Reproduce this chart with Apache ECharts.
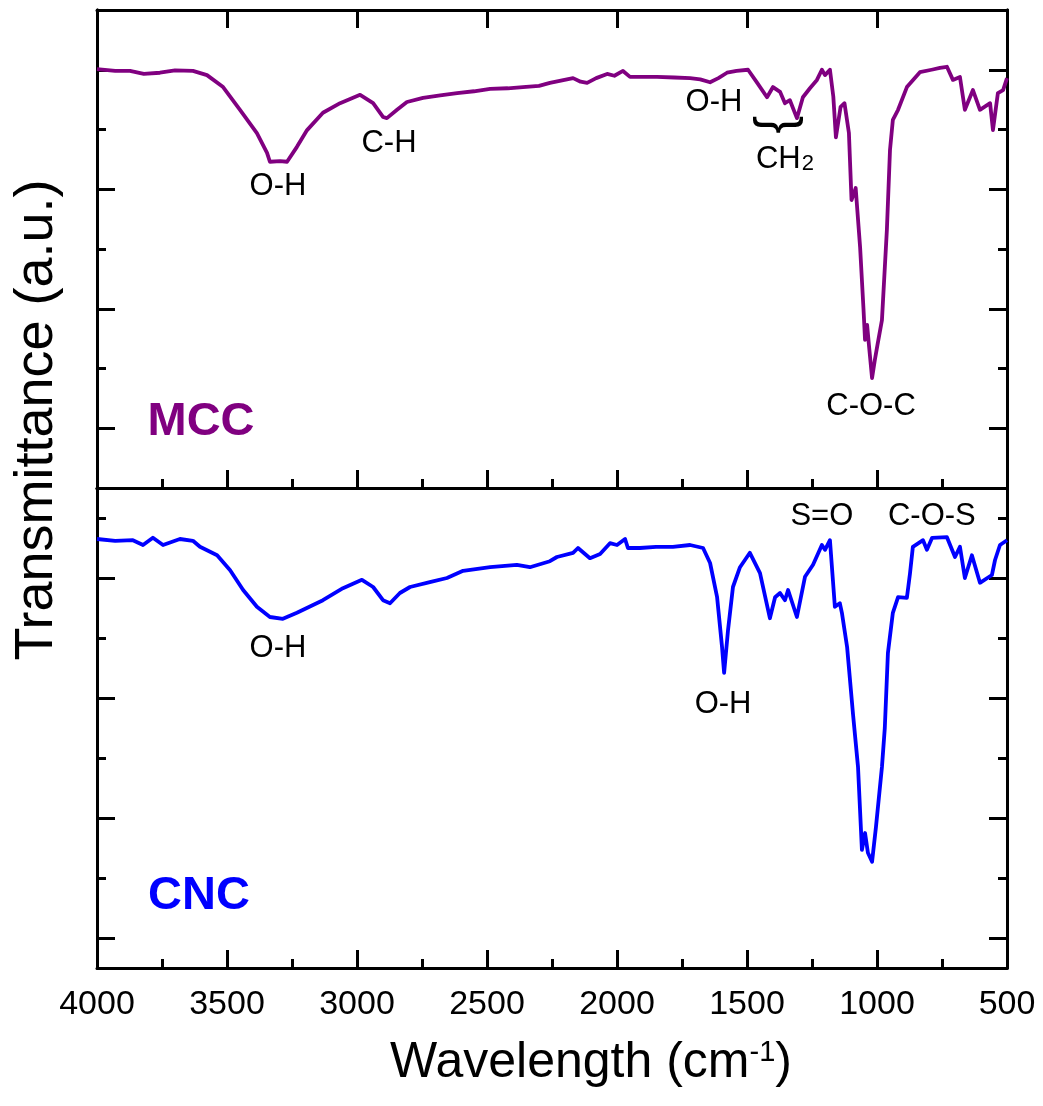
<!DOCTYPE html>
<html>
<head>
<meta charset="utf-8">
<script src="https://cdn.jsdelivr.net/npm/echarts@6/dist/echarts.min.js"></script>
<style>
  html, body { margin: 0; padding: 0; background: #fff; }
  #chart { width: 1043px; height: 1106px; }
</style>
</head>
<body>
<div id="chart"></div>
<script>
// FTIR spectra: wavenumber (cm-1) and transmittance (a.u.)
const mccWavenumber = [4000,3930,3873,3820,3758,3700,3631,3577,3515,3450,3385,3346,3335,3296,3269,3231,3192,3131,3065,2988,2938,2900,2885,2846,2808,2746,2680,2615,2550,2488,2420,2362,2300,2258,2169,2140,2115,2080,2038,2010,1977,1950,1900,1846,1780,1719,1680,1642,1610,1577,1540,1496,1462,1423,1400,1373,1354,1335,1308,1285,1258,1231,1212,1200,1181,1168,1158,1140,1125,1108,1098,1082,1065,1052,1046,1038,1031,1019,1008,998,981,962,950,939,919,885,835,790,758,731,708,681,662,631,604,565,554,535,515,500];
const mccTransmittance = [7.01,6.98,6.98,6.93,6.95,6.99,6.98,6.91,6.71,6.33,5.94,5.61,5.46,5.47,5.46,5.71,5.99,6.28,6.44,6.58,6.44,6.21,6.19,6.33,6.46,6.53,6.57,6.61,6.64,6.68,6.69,6.71,6.73,6.78,6.86,6.80,6.78,6.86,6.93,6.90,6.98,6.88,6.88,6.88,6.87,6.86,6.84,6.79,6.86,6.95,6.98,7.00,6.79,6.54,6.71,6.63,6.44,6.49,6.19,6.54,6.69,6.83,7.00,6.91,7.00,6.55,5.87,6.38,6.44,5.94,4.82,5.02,4.03,3.00,2.48,2.73,2.39,1.84,2.15,2.40,2.81,4.32,5.66,6.16,6.33,6.71,6.96,7.00,7.03,7.05,6.83,6.88,6.33,6.66,6.33,6.44,5.99,6.61,6.66,6.86];

const cncWavenumber = [4000,3930,3862,3823,3785,3746,3681,3631,3604,3538,3488,3438,3385,3335,3285,3231,3131,3054,2981,2938,2900,2873,2835,2796,2720,2654,2592,2488,2385,2335,2258,2231,2169,2150,2104,2065,2027,2000,1969,1958,1912,1850,1785,1719,1669,1642,1615,1596,1588,1573,1554,1527,1489,1450,1412,1392,1373,1354,1342,1308,1277,1246,1212,1200,1181,1162,1143,1135,1115,1092,1073,1058,1046,1035,1019,1004,981,970,958,939,919,885,873,862,823,808,788,731,700,681,662,635,604,558,546,527,500];
const cncTransmittance = [7.15,7.12,7.13,7.05,7.17,7.05,7.15,7.12,7.02,6.88,6.63,6.30,6.02,5.85,5.82,5.92,6.13,6.33,6.47,6.35,6.13,6.08,6.25,6.35,6.43,6.50,6.62,6.68,6.72,6.68,6.78,6.85,6.92,7.00,6.83,6.90,7.08,7.05,7.15,7.00,7.00,7.02,7.02,7.05,7.00,6.75,6.18,5.35,4.92,5.63,6.35,6.68,6.92,6.58,5.83,6.18,6.25,6.13,6.30,5.85,6.52,6.72,7.05,6.97,7.13,6.02,6.08,5.92,5.35,4.22,3.35,1.97,2.25,1.92,1.77,2.35,3.35,4.00,5.25,5.92,6.18,6.17,6.58,7.02,7.13,6.97,7.17,7.18,6.85,7.02,6.50,6.88,6.42,6.55,6.80,7.05,7.13];

// band assignments placed at (wavenumber, transmittance)
const mccNoteText = ['O-H', 'C-H', 'O-H', '}', 'CH2', 'C-O-C', 'MCC'];
const mccNoteWn   = [3304, 2877, 1627, 1377, 1354, 1023, 3600];
const mccNoteT    = [5.04, 5.77, 6.46, 6.08, 5.50, 1.36, 1.10];

const cncNoteText = ['O-H', 'O-H', 'S=O', 'C-O-S', 'CNC'];
const cncNoteWn   = [3304, 1592, 1212, 789, 3608];
const cncNoteT    = [5.33, 4.40, 7.53, 7.53, 1.20];

// tick positions on the transmittance axes (no labels)
const mccMajorTicks = [1, 3, 5, 7];
const mccMinorTicks = [2, 4, 6];
const cncMajorTicks = [0.5, 2.5, 4.5, 6.5];
const cncMinorTicks = [1.5, 3.5, 5.5, 7.5];

const FONT = '"Liberation Sans", Arial, sans-serif';
const MCC_COLOR = '#800080';
const CNC_COLOR = '#0000ff';

const chart = echarts.init(document.getElementById('chart'), null, { renderer: 'canvas' });

const frameLine = { show: true, onZero: false, lineStyle: { color: '#000', width: 3 } };

function xAxisDef(gridIndex, position, major, minor, labels) {
  return {
    type: 'value', gridIndex, position,
    min: 500, max: 4000, interval: 500, inverse: true,
    axisLine: frameLine,
    splitLine: { show: false },
    axisTick: { show: major, inside: true, length: 18, lineStyle: { color: '#000', width: 3 } },
    minorTick: { show: minor, splitNumber: 2, length: 9, lineStyle: { color: '#000', width: 3 } },
    axisLabel: {
      show: labels, color: '#000', fontFamily: FONT, fontSize: 34, margin: 20,
      formatter: v => String(v)
    }
  };
}

function yAxisDef(gridIndex, position, ticks, len) {
  return {
    type: 'value', gridIndex, position,
    min: 0, max: 8,
    axisLine: frameLine,
    splitLine: { show: false },
    axisLabel: { show: false },
    axisTick: { show: true, inside: true, length: len, customValues: ticks, lineStyle: { color: '#000', width: 3 } }
  };
}

function noteLabel(t) {
  const base = {
    show: true, position: [0, 0], align: 'center', verticalAlign: 'middle',
    fontFamily: FONT, fontSize: 31, color: '#000', textBorderWidth: 0, opacity: 1
  };
  if (t === 'CH2') {
    return Object.assign(base, {
      formatter: '{c|CH}{s|2}',
      rich: {
        c: { fontFamily: FONT, fontSize: 31, color: '#000', verticalAlign: 'top', lineHeight: 31 },
        s: { fontFamily: FONT, fontSize: 22, color: '#000', verticalAlign: 'bottom', lineHeight: 22, padding: [22, 0, 0, 1] }
      }
    });
  }
  if (t === '}') return Object.assign(base, { formatter: () => '}', fontSize: 54, rotate: -90 });
  if (t === 'MCC') return Object.assign(base, { formatter: () => t, fontSize: 47, fontWeight: 'bold', color: MCC_COLOR });
  if (t === 'CNC') return Object.assign(base, { formatter: () => t, fontSize: 47, fontWeight: 'bold', color: CNC_COLOR });
  return Object.assign(base, { formatter: () => t });
}

function noteData(texts, wns, ts) {
  return texts.map((t, i) => ({ value: [wns[i], ts[i]], label: noteLabel(t) }));
}

function pairs(xs, ys) { return xs.map((x, i) => [x, ys[i]]); }

const option = {
  animation: false,
  backgroundColor: '#fff',
  grid: [
    { left: 97, right: 36, top: 10, height: 478 },
    { left: 97, right: 36, top: 488, height: 480 }
  ],
  xAxis: [
    xAxisDef(0, 'bottom', true, true, false),
    xAxisDef(0, 'top', true, false, false),
    Object.assign(xAxisDef(1, 'bottom', true, true, true), {
      name: 'Wavelength (cm{sup|-1})',
      nameLocation: 'middle',
      nameGap: 70,
      nameTextStyle: {
        fontFamily: FONT, fontSize: 50, color: '#000', padding: [0, 0, 0, 78],
        rich: { sup: { fontFamily: FONT, fontSize: 29, verticalAlign: 'top', lineHeight: 29, color: '#000' } }
      }
    }),
    xAxisDef(1, 'top', false, false, false)
  ],
  yAxis: [
    yAxisDef(0, 'left', mccMajorTicks, 18),
    yAxisDef(0, 'right', mccMajorTicks, 18),
    yAxisDef(0, 'left', mccMinorTicks, 9),
    yAxisDef(0, 'right', mccMinorTicks, 9),
    yAxisDef(1, 'left', cncMajorTicks, 18),
    yAxisDef(1, 'right', cncMajorTicks, 18),
    yAxisDef(1, 'left', cncMinorTicks, 9),
    yAxisDef(1, 'right', cncMinorTicks, 9)
  ],
  series: [
    {
      name: 'MCC', type: 'line', xAxisIndex: 0, yAxisIndex: 0,
      data: pairs(mccWavenumber, mccTransmittance),
      showSymbol: false, silent: true,
      lineStyle: { color: MCC_COLOR, width: 3.8, join: 'round' }
    },
    {
      name: 'CNC', type: 'line', xAxisIndex: 2, yAxisIndex: 4,
      data: pairs(cncWavenumber, cncTransmittance),
      showSymbol: false, silent: true,
      lineStyle: { color: CNC_COLOR, width: 3.8, join: 'round' }
    },
    {
      type: 'scatter', xAxisIndex: 0, yAxisIndex: 0, symbolSize: 0, silent: true,
      itemStyle: { opacity: 1 },
      data: noteData(mccNoteText, mccNoteWn, mccNoteT)
    },
    {
      type: 'scatter', xAxisIndex: 2, yAxisIndex: 4, symbolSize: 0, silent: true,
      itemStyle: { opacity: 1 },
      data: noteData(cncNoteText, cncNoteWn, cncNoteT)
    }
  ],
  graphic: [
    {
      type: 'text', x: 37, y: 420, rotation: Math.PI / 2,
      style: {
        text: 'Transmittance (a.u.)', fill: '#000',
        font: '54px ' + FONT, align: 'center', verticalAlign: 'middle'
      }
    }
  ]
};

chart.setOption(option);
</script>
</body>
</html>
